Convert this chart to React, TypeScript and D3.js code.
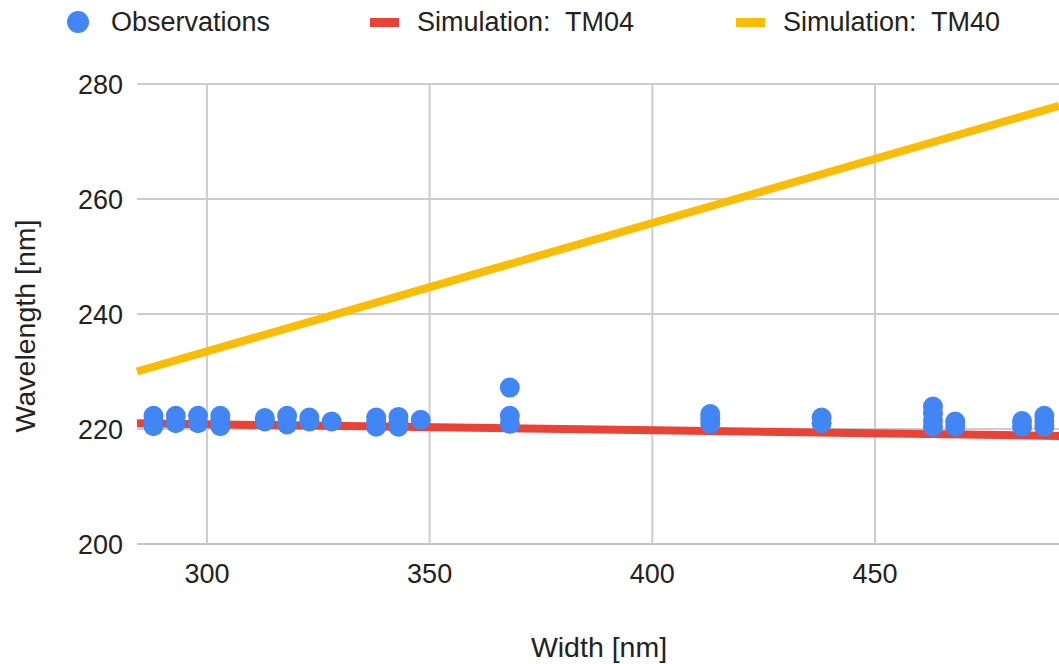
import { useEffect, useRef } from "react"
import * as d3 from "d3"

// observations: one entry per measured point (width, wavelength)
const obsWidth = [
  288, 288, 288, 293, 293, 298, 298, 303, 303, 303,
  313, 313, 318, 318, 323, 323, 328,
  338, 338, 338, 343, 343, 343, 348,
  368, 368, 368, 413, 413, 413, 438, 438,
  463, 463, 463, 463, 468, 468, 483, 483, 488, 488, 488,
]
const obsWavelength = [
  220.5, 221.5, 222.3, 221.0, 222.3, 221.0, 222.3, 220.5, 221.5, 222.3,
  221.3, 221.9, 220.8, 222.3, 221.3, 222.0, 221.3,
  220.4, 221.2, 222.0, 220.4, 221.2, 222.1, 221.6,
  220.9, 222.3, 227.2, 220.9, 221.8, 222.6, 221.0, 222.0,
  220.4, 221.5, 222.7, 223.9, 220.4, 221.3, 220.4, 221.4, 220.4, 221.4, 222.3,
]

// simulation lines
const simWidth = [284.3, 491.3]
const simTM04 = [221.0, 218.8]
const simTM40 = [230.0, 276.2]

const xTicks = [300, 350, 400, 450]
const yTicks = [200, 220, 240, 260, 280]

const W = 1059
const H = 664
const FONT = "'Liberation Sans', Arial, sans-serif"

export default function App() {
  const svgRef = useRef<SVGSVGElement>(null)

  useEffect(() => {
    if (!svgRef.current) return
    const svg = d3.select(svgRef.current)
    svg.selectAll("*").remove()

    const left = 137
    const right = 1059
    const top = 84
    const bottom = 544

    const x = d3.scaleLinear().domain([simWidth[0], simWidth[1]]).range([left, right])
    const y = d3.scaleLinear().domain([200, 280]).range([bottom, top])

    // grid
    svg
      .append("g")
      .selectAll("line")
      .data(yTicks)
      .enter()
      .append("line")
      .attr("x1", left)
      .attr("x2", right)
      .attr("y1", (d) => y(d))
      .attr("y2", (d) => y(d))
      .attr("stroke", (d) => (d === 200 ? "#c4c4c4" : "#cccccc"))
      .attr("stroke-width", 2)

    svg
      .append("g")
      .selectAll("line")
      .data(xTicks)
      .enter()
      .append("line")
      .attr("x1", (d) => x(d))
      .attr("x2", (d) => x(d))
      .attr("y1", top)
      .attr("y2", bottom)
      .attr("stroke", "#cccccc")
      .attr("stroke-width", 2)

    // tick labels
    svg
      .append("g")
      .selectAll("text")
      .data(yTicks)
      .enter()
      .append("text")
      .attr("x", 123)
      .attr("y", (d) => y(d))
      .attr("dy", "0.36em")
      .attr("text-anchor", "end")
      .attr("font-family", FONT)
      .attr("font-size", 27)
      .attr("fill", "#222")
      .text((d) => d)

    svg
      .append("g")
      .selectAll("text")
      .data(xTicks)
      .enter()
      .append("text")
      .attr("x", (d) => x(d))
      .attr("y", 583)
      .attr("text-anchor", "middle")
      .attr("font-family", FONT)
      .attr("font-size", 27)
      .attr("fill", "#222")
      .text((d) => d)

    // axis titles
    svg
      .append("text")
      .attr("x", 599)
      .attr("y", 657)
      .attr("text-anchor", "middle")
      .attr("font-family", FONT)
      .attr("font-size", 28.5)
      .attr("fill", "#222")
      .text("Width [nm]")

    svg
      .append("text")
      .attr("transform", "translate(35,326) rotate(-90)")
      .attr("text-anchor", "middle")
      .attr("font-family", FONT)
      .attr("font-size", 28.5)
      .attr("fill", "#222")
      .text("Wavelength [nm]")

    // simulation lines
    const line = d3
      .line<number>()
      .x((_, i) => x(simWidth[i]))
      .y((d) => y(d))

    const plot = svg.append("g")
    plot
      .append("path")
      .attr("d", line(simTM04))
      .attr("fill", "none")
      .attr("stroke", "#ea4335")
      .attr("stroke-width", 8)
    plot
      .append("path")
      .attr("d", line(simTM40))
      .attr("fill", "none")
      .attr("stroke", "#fbbc04")
      .attr("stroke-width", 8)

    // observations
    plot
      .selectAll("circle")
      .data(obsWidth)
      .enter()
      .append("circle")
      .attr("cx", (d) => x(d))
      .attr("cy", (_, i) => y(obsWavelength[i]))
      .attr("r", 10)
      .attr("fill", "#4285f4")

    // legend
    const legend = svg.append("g").attr("font-family", FONT).attr("font-size", 27).attr("fill", "#222")
    legend.append("circle").attr("cx", 78).attr("cy", 22).attr("r", 11).attr("fill", "#4285f4")
    legend.append("text").attr("x", 111).attr("y", 31).text("Observations")
    legend.append("rect").attr("x", 370).attr("y", 18).attr("width", 29).attr("height", 9).attr("fill", "#ea4335")
    legend.append("text").attr("x", 417).attr("y", 31).attr("xml:space", "preserve").text("Simulation:  TM04")
    legend.append("rect").attr("x", 736).attr("y", 18).attr("width", 29).attr("height", 9).attr("fill", "#fbbc04")
    legend.append("text").attr("x", 783).attr("y", 31).attr("xml:space", "preserve").text("Simulation:  TM40")
  }, [])

  return (
    <svg
      ref={svgRef}
      width={W}
      height={H}
      style={{ position: "absolute", left: 0, top: 0, background: "#fff", display: "block" }}
    />
  )
}
